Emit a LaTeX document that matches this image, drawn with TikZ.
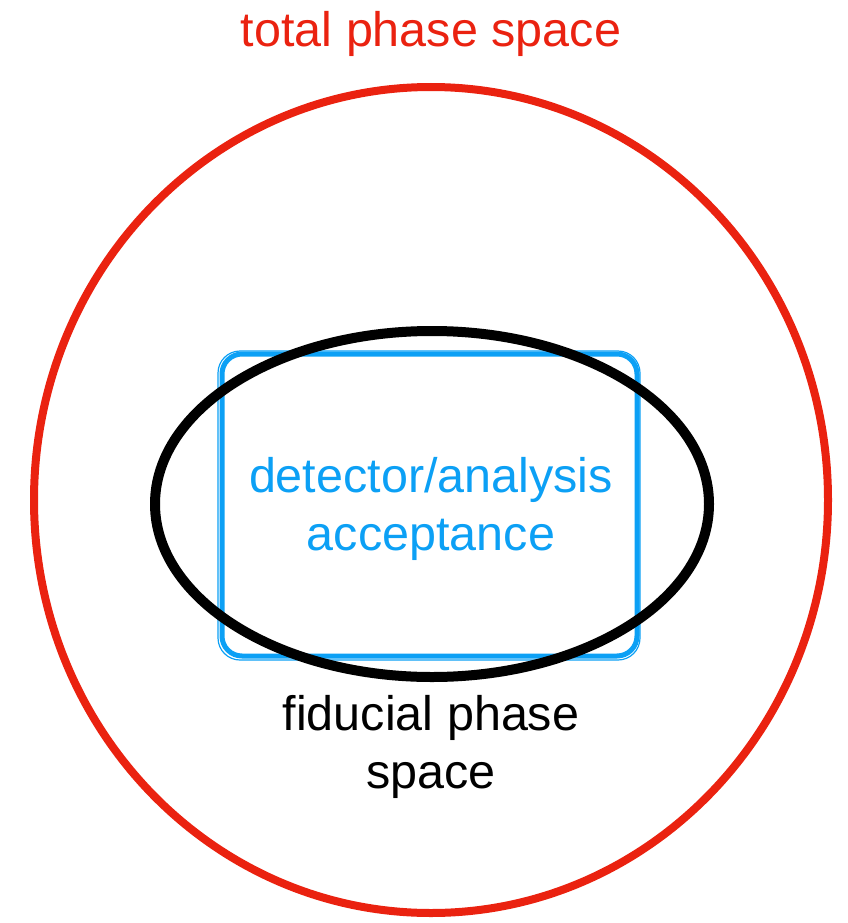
\documentclass[tikz,border=0pt]{standalone}
\usepackage{fontspec}
\setmainfont{Liberation Sans}
\definecolor{tred}{RGB}{234,34,16}
\definecolor{tblue}{RGB}{12,160,245}
\begin{document}
\begin{tikzpicture}[x=1pt,y=-1pt,
  lbl/.style={inner sep=0pt, align=center, font=\fontsize{48.5pt}{58pt}\selectfont, anchor=base}]
\useasboundingbox (0,0) rectangle (848,923);
% total phase space
\draw[tred, line width=8pt] (431,500) ellipse [x radius=397pt, y radius=413pt];
\node[lbl, text=tred] (total) at (431,47) {total phase space};
% detector acceptance box
\draw[tblue, line width=5pt, rounded corners=20pt] (222,354) rectangle (637,656);
\draw[tblue, line width=1.2pt, rounded corners=22pt] (218,351) rectangle (640,660);
\node[lbl, text=tblue] (acc) at (431,550) {detector/analysis\\acceptance};
% fiducial ellipse
\draw[black, line width=10pt] (432,504) ellipse [x radius=277pt, y radius=173pt];
\node[lbl, text=black] (fid) at (431,788) {fiducial phase\\space};
\end{tikzpicture}
\end{document}
